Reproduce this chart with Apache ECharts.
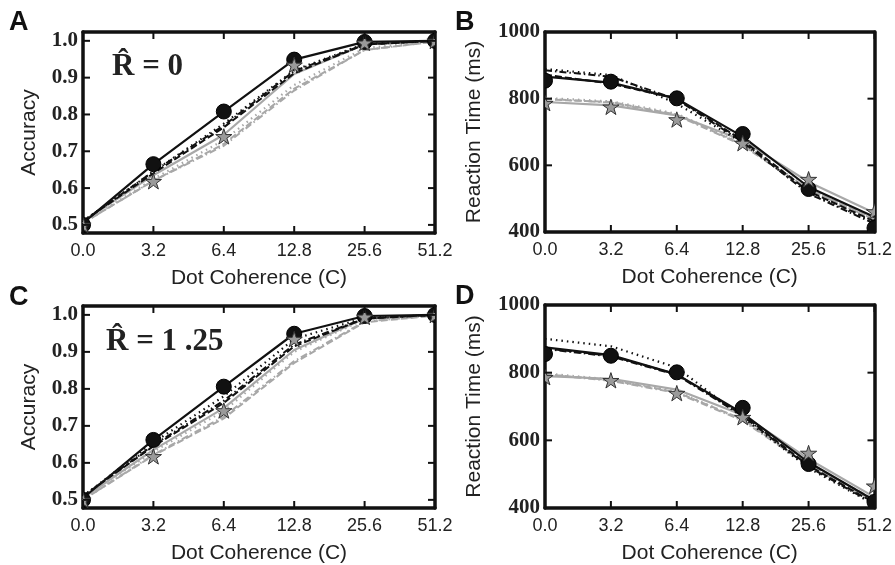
<!DOCTYPE html>
<html><head><meta charset="utf-8">
<script src="https://cdn.jsdelivr.net/npm/echarts@6/dist/echarts.min.js"></script>
<style>html,body{margin:0;padding:0;background:#fff}#c{width:895px;height:565px}</style>
</head><body><div id="c"></div>
<script>
const categories = ['0.0','3.2','6.4','12.8','25.6','51.2'];
const accTicks = [0.5,0.6,0.7,0.8,0.9,1.0];
const rtTicks = [400,600,800,1000];

const A_dataBlack   = [0.50, 0.665, 0.808, 0.949, 0.997, 1.0];
const A_dataGray    = [0.50, 0.619, 0.741, 0.935, 0.995, 1.0];
const A_blackSolid  = [0.505, 0.665, 0.808, 0.949, 0.997, 1.0];
const A_blackDashed = [0.51, 0.64, 0.765, 0.912, 0.99, 1.0];
const A_blackDotted = [0.51, 0.645, 0.775, 0.92, 0.992, 1.0];
const A_blackDashDot= [0.51, 0.645, 0.77, 0.918, 0.99, 1.0];
const A_graySolid   = [0.51, 0.635, 0.745, 0.91, 0.99, 1.0];
const A_grayDashed  = [0.505, 0.62, 0.72, 0.87, 0.975, 0.998];
const A_grayDotted  = [0.505, 0.625, 0.73, 0.88, 0.98, 0.999];
const A_grayDashDot = [0.505, 0.62, 0.715, 0.865, 0.975, 0.998];

const B_dataBlack   = [854, 851, 801, 694, 529, 412];
const B_dataGray    = [787, 776, 738, 667, 559, 462];
const B_blackSolid  = [866, 848, 800, 686, 535, 445];
const B_blackDashed = [872, 845, 800, 675, 522, 432];
const B_blackDotted = [889, 871, 785, 668, 518, 428];
const B_blackDashDot= [885, 866, 798, 670, 515, 425];
const B_graySolid   = [790, 780, 750, 675, 550, 457];
const B_grayDashed  = [798, 790, 752, 662, 528, 440];
const B_grayDotted  = [802, 792, 755, 665, 530, 442];
const B_grayDashDot = [800, 788, 750, 660, 525, 438];

const C_dataBlack   = [0.50, 0.662, 0.806, 0.949, 0.997, 1.0];
const C_dataGray    = [0.50, 0.618, 0.742, 0.935, 0.995, 1.0];
const C_blackSolid  = [0.505, 0.662, 0.806, 0.949, 0.997, 1.0];
const C_blackDashed = [0.51, 0.645, 0.762, 0.915, 0.99, 1.0];
const C_blackDotted = [0.51, 0.655, 0.78, 0.935, 0.992, 1.0];
const C_blackDashDot= [0.51, 0.648, 0.768, 0.92, 0.99, 1.0];
const C_graySolid   = [0.505, 0.635, 0.748, 0.905, 0.99, 1.0];
const C_grayDashed  = [0.50, 0.62, 0.72, 0.87, 0.98, 0.998];
const C_grayDotted  = [0.505, 0.63, 0.74, 0.90, 0.988, 1.0];
const C_grayDashDot = [0.50, 0.622, 0.725, 0.875, 0.982, 0.999];

const D_dataBlack   = [855, 850, 801, 696, 530, 418];
const D_dataGray    = [787, 778, 740, 669, 563, 466];
const D_blackSolid  = [875, 852, 795, 680, 535, 422];
const D_blackDashed = [872, 850, 795, 675, 525, 415];
const D_blackDotted = [900, 878, 815, 668, 518, 410];
const D_blackDashDot= [870, 848, 793, 672, 522, 412];
const D_graySolid   = [790, 782, 750, 675, 545, 432];
const D_grayDashed  = [795, 778, 742, 662, 530, 425];
const D_grayDotted  = [798, 780, 745, 660, 528, 422];
const D_grayDashDot = [795, 776, 740, 658, 525, 420];

const panels = [
  {kind:'acc', d:[A_dataBlack,A_dataGray,A_blackSolid,A_blackDashed,A_blackDotted,A_blackDashDot,A_graySolid,A_grayDashed,A_grayDotted,A_grayDashDot]},
  {kind:'rt',  d:[B_dataBlack,B_dataGray,B_blackSolid,B_blackDashed,B_blackDotted,B_blackDashDot,B_graySolid,B_grayDashed,B_grayDotted,B_grayDashDot]},
  {kind:'acc', d:[C_dataBlack,C_dataGray,C_blackSolid,C_blackDashed,C_blackDotted,C_blackDashDot,C_graySolid,C_grayDashed,C_grayDotted,C_grayDashDot]},
  {kind:'rt',  d:[D_dataBlack,D_dataGray,D_blackSolid,D_blackDashed,D_blackDotted,D_blackDashDot,D_graySolid,D_grayDashed,D_grayDotted,D_grayDashDot]}
];

const grids = [
  {left:83, top:32, width:352, height:201},
  {left:545, top:32, width:333, height:200},
  {left:83, top:306, width:352, height:202},
  {left:545, top:305, width:333, height:203}
];

const BLK = '#111', GRY = '#a8a8a8';
const TICK_LEN = 7;
// unit star outline (outer radius 1)
const STAR_UNIT = [[0,-1],[0.2245,-0.309],[0.951,-0.309],[0.363,0.118],[0.588,0.809],[0,0.382],[-0.588,0.809],[-0.363,0.118],[-0.951,-0.309],[-0.2245,-0.309]];

const xAxis = [], yAxis = [], series = [];
const sansFont = '"Liberation Sans", Arial, sans-serif';
const serifFont = '"Liberation Serif", "Times New Roman", serif';

function axLine(){ return {show:true, onZero:false, lineStyle:{color:'#111', width:3.5}}; }

panels.forEach((p, i) => {
  const isAcc = p.kind === 'acc';
  const ticks = isAcc ? accTicks : rtTicks;
  const yMin = isAcc ? 0.478 : 400, yMax = isAcc ? 1.024 : 1000;
  xAxis.push({
    gridIndex:i, type:'value', min:0, max:5, interval:1, position:'bottom',
    axisLine:axLine(), axisTick:{show:false}, splitLine:{show:false},
    axisLabel:{margin:9, fontFamily:sansFont, fontSize:18, color:'#222',
      formatter:v => categories[Math.round(v)]},
    name:'Dot Coherence (C)', nameLocation:'middle', nameGap:35,
    nameTextStyle:{fontFamily:sansFont, fontSize:21, color:'#222'}
  });
  xAxis.push({
    gridIndex:i, type:'value', min:0, max:5, interval:1, position:'top',
    axisLine:axLine(), axisTick:{show:false}, axisLabel:{show:false}, splitLine:{show:false}
  });
  yAxis.push({
    gridIndex:i, type:'value', min:yMin, max:yMax, position:'left',
    axisLine:axLine(), axisTick:{show:false}, splitLine:{show:false},
    axisLabel:{customValues:ticks, margin:5, fontFamily:serifFont, fontWeight:'bold', fontSize:21, color:'#222',
      formatter:v => isAcc ? Number(v).toFixed(1) : String(Math.round(v))},
    name: isAcc ? 'Accuracy' : 'Reaction Time (ms)', nameLocation:'middle', nameGap: isAcc ? 43 : 60,
    nameTextStyle:{fontFamily:sansFont, fontSize:21, color:'#222'}
  });
  yAxis.push({
    gridIndex:i, type:'value', min:yMin, max:yMax, position:'right',
    axisLine:axLine(), axisTick:{show:false}, axisLabel:{show:false}, splitLine:{show:false}
  });
  const xi = i*2, yi = i*2;
  const mk = (arr) => arr.map((v, k) => [k, v]);
  const styles = [
    {c:BLK, t:'solid', idx:2, w:2.2},
    {c:BLK, t:[7,3], idx:3, w:2},
    {c:BLK, t:[1.5,4], idx:4, w:2.2},
    {c:BLK, t:[7,3,1.5,3], idx:5, w:2},
    {c:GRY, t:'solid', idx:6, w:2.2},
    {c:GRY, t:[7,3], idx:7, w:2},
    {c:GRY, t:[1.5,4], idx:8, w:2.2},
    {c:GRY, t:[7,3,1.5,3], idx:9, w:2}
  ];
  [4,5,6,7,1,2,3,0].forEach(si => {
    const s = styles[si];
    series.push({type:'line', xAxisIndex:xi, yAxisIndex:yi, data:mk(p.d[s.idx]),
      showSymbol:false, symbol:'none', silent:true, animation:false, z:2,
      lineStyle:{color:s.c, width:s.w, type:s.t, cap:'butt'}});
  });
  // data markers, clipped to the plot area like the original
  series.push({type:'custom', xAxisIndex:xi, yAxisIndex:yi, clip:true, silent:true, animation:false, z:3,
    data:mk(p.d[0]),
    renderItem:(params, api) => {
      const c = api.coord([api.value(0), api.value(1)]);
      return {type:'circle', shape:{cx:c[0], cy:c[1], r:7.5}, style:{fill:'#111', stroke:'#000', lineWidth:1}};
    }});
  series.push({type:'custom', xAxisIndex:xi, yAxisIndex:yi, clip:true, silent:true, animation:false, z:4,
    data:mk(p.d[1]),
    renderItem:(params, api) => {
      const c = api.coord([api.value(0), api.value(1)]);
      const pts = STAR_UNIT.map(q => [c[0] + q[0]*8.5, c[1] + q[1]*8.5 + 1]);
      return {type:'polygon', shape:{points:pts}, style:{fill:'#9a9a9a', stroke:'#333', lineWidth:1}};
    }});
  // inward tick marks on all four sides, placed by the axes' own scales
  const tickStyle = {stroke:'#111', lineWidth:2};
  series.push({type:'custom', xAxisIndex:xi, yAxisIndex:yi, clip:false, silent:true, animation:false, z:6,
    data:categories.map((c, k) => [k]),
    renderItem:(params, api) => {
      const b = api.coord([api.value(0), yMin]);
      const t = api.coord([api.value(0), yMax]);
      return {type:'group', children:[
        {type:'line', shape:{x1:b[0], y1:b[1], x2:b[0], y2:b[1]-TICK_LEN}, style:tickStyle},
        {type:'line', shape:{x1:t[0], y1:t[1], x2:t[0], y2:t[1]+TICK_LEN}, style:tickStyle}
      ]};
    }});
  series.push({type:'custom', xAxisIndex:xi, yAxisIndex:yi, clip:false, silent:true, animation:false, z:6,
    data:ticks.map(v => [v]),
    renderItem:(params, api) => {
      const l = api.coord([0, api.value(0)]);
      const r = api.coord([5, api.value(0)]);
      return {type:'group', children:[
        {type:'line', shape:{x1:l[0], y1:l[1], x2:l[0]+TICK_LEN, y2:l[1]}, style:tickStyle},
        {type:'line', shape:{x1:r[0], y1:r[1], x2:r[0]-TICK_LEN, y2:r[1]}, style:tickStyle}
      ]};
    }});
});

const letterStyle = (t, x, y) => ({type:'text', left:x, top:y, style:{text:t, fontFamily:sansFont, fontWeight:'bold', fontSize:27, fill:'#111'}});
const rStyle = (t, x, y) => ({type:'text', left:x, top:y, style:{text:t, fontFamily:serifFont, fontWeight:'bold', fontSize:31, fill:'#222'}});

const option = {
  backgroundColor:'#fff',
  animation:false,
  grid:grids.map(g => Object.assign({containLabel:false}, g)),
  xAxis, yAxis, series,
  graphic:[
    letterStyle('A', 9, 9),
    letterStyle('B', 455, 9),
    letterStyle('C', 9, 284),
    letterStyle('D', 455, 283),
    rStyle('R\u0302 = 0', 112, 51),
    rStyle('R\u0302 = 1 .25', 106, 326)
  ]
};
const chart = echarts.init(document.getElementById('c'), null, {renderer:'canvas'});
chart.setOption(option);
</script></body></html>
